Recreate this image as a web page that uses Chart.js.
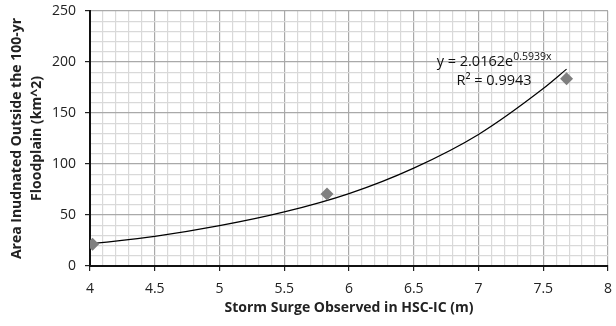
<!DOCTYPE html>
<html lang="en">
<head>
<meta charset="UTF-8">
<title>Storm surge vs inundated area</title>
<script src="https://cdn.jsdelivr.net/npm/chart.js"></script>
<style>
    html, body { margin: 0; padding: 0; background: #fff; }
    #wrap { width: 616px; height: 326px; }
</style>
</head>
<body>
<div id="wrap"><canvas id="chart" width="616" height="326"></canvas></div>
<script>
// observed points (storm surge in m, area in km^2)
const surge = [4.02, 5.83, 7.68];
const area = [21.3, 70.7, 183.5];

// trendline
const trendX = [4.02, 4.5, 5.0, 5.5, 6.0, 6.5, 7.0, 7.5, 7.68];
const trendY = [22, 29, 39.5, 53, 71, 96, 129, 174, 193];

const xTicks = [4, 4.5, 5, 5.5, 6, 6.5, 7, 7.5, 8];
const yTicks = [0, 50, 100, 150, 200, 250];

const eqLine1 = "y = 2.0162e";
const eqSup = "0.5939x";
const eqLine2 = "R² = 0.9943";

const FONT = "'Open Sans', 'DejaVu Sans', sans-serif";

const isMajorX = v => xTicks.some(t => Math.abs(t - v) < 1e-6);
const isMajorY = v => yTicks.some(t => Math.abs(t - v) < 1e-6);

// equation label of the trendline
const trendLabel = {
    id: "trendLabel",
    afterDatasetsDraw(chart) {
        const ctx = chart.ctx;
        const xs = chart.scales.x, ys = chart.scales.y;
        const cx = xs.getPixelForValue(7.12);
        ctx.save();
        ctx.fillStyle = "#111";
        ctx.textBaseline = "alphabetic";
        ctx.font = "14.5px " + FONT;
        const w1 = ctx.measureText(eqLine1).width;
        ctx.font = "10.5px " + FONT;
        const w2 = ctx.measureText(eqSup).width;
        const x0 = cx - (w1 + w2) / 2;
        const y1 = ys.getPixelForValue(196);
        ctx.font = "14.5px " + FONT;
        ctx.textAlign = "left";
        ctx.fillText(eqLine1, x0, y1);
        ctx.font = "10.5px " + FONT;
        ctx.fillText(eqSup, x0 + w1, y1 - 6);
        ctx.font = "14.5px " + FONT;
        ctx.textAlign = "center";
        ctx.fillText(eqLine2, cx, ys.getPixelForValue(177));
        ctx.restore();
    }
};

new Chart(document.getElementById("chart"), {
    type: "scatter",
    data: {
        datasets: [
            {
                label: "Trend",
                data: trendX.map((x, i) => ({ x: x, y: trendY[i] })),
                showLine: true,
                borderColor: "#000",
                borderWidth: 1.2,
                pointRadius: 0,
                cubicInterpolationMode: "monotone",
                order: 2
            },
            {
                label: "Observed",
                data: surge.map((x, i) => ({ x: x, y: area[i] })),
                pointStyle: "rectRot",
                pointRadius: 6.5,
                backgroundColor: "#7f7f7f",
                borderColor: "#7f7f7f",
                borderWidth: 0,
                order: 1
            }
        ]
    },
    plugins: [trendLabel],
    options: {
        responsive: false,
        animation: false,
        layout: { padding: 0 },
        plugins: { legend: { display: false }, tooltip: { enabled: false } },
        scales: {
            x: {
                type: "linear",
                min: 4, max: 8,
                afterFit(s) { s.height = 60; s.paddingRight = 8; s.paddingLeft = 0; },
                ticks: {
                    stepSize: 0.1,
                    autoSkip: false,
                    maxRotation: 0,
                    padding: 10,
                    color: "#222",
                    font: { family: FONT, size: 14 },
                    callback: v => isMajorX(v) ? String(v) : ""
                },
                grid: {
                    color: c => isMajorX(c.tick.value) ? "#a9a9a9" : "#d9d9d9",
                    tickColor: c => isMajorX(c.tick.value) ? "#222" : "rgba(0,0,0,0)",
                    tickLength: 5,
                    lineWidth: 1.2
                },
                border: { color: "#111", width: 2 },
                title: {
                    display: true,
                    text: "Storm Surge Observed in HSC-IC (m)",
                    color: "#222",
                    font: { family: FONT, size: 14, weight: "bold" },
                    padding: { top: 0, bottom: 10 }
                }
            },
            y: {
                type: "linear",
                min: 0, max: 250,
                afterFit(s) { s.width = 90; s.paddingTop = 11; s.paddingBottom = 0; },
                ticks: {
                    stepSize: 10,
                    autoSkip: false,
                    padding: 9,
                    color: "#222",
                    font: { family: FONT, size: 14 },
                    callback: v => isMajorY(v) ? String(v) : ""
                },
                grid: {
                    color: c => isMajorY(c.tick.value) ? "#a9a9a9" : "#d9d9d9",
                    tickColor: c => isMajorY(c.tick.value) ? "#222" : "rgba(0,0,0,0)",
                    tickLength: 5,
                    lineWidth: 1.2
                },
                border: { color: "#111", width: 2 },
                title: {
                    display: true,
                    text: ["Area Inudnated Outside the 100-yr", "Floodplain (km^2)"],
                    color: "#222",
                    font: { family: FONT, size: 14, weight: "bold", lineHeight: 1.45 },
                    padding: { top: 7, bottom: 0 }
                }
            }
        }
    }
});
</script>
</body>
</html>
